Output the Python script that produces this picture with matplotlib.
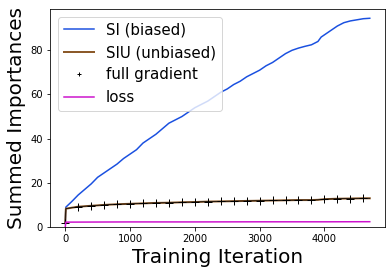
import numpy as np
import matplotlib
matplotlib.use('Agg')
import matplotlib.pyplot as plt

# SI (biased) summed importances
si_iter = [0, 10, 100, 200, 300, 400, 500, 600, 700, 800, 900, 1000, 1100, 1200, 1300,
           1400, 1500, 1600, 1700, 1800, 1900, 2000, 2100, 2200, 2300, 2400, 2500, 2600,
           2700, 2800, 2900, 3000, 3100, 3200, 3300, 3400, 3500, 3600, 3700, 3800, 3900,
           3950, 4000, 4100, 4200, 4300, 4400, 4500, 4600, 4700]
si_vals = [1.5, 9.0, 11.5, 14.5, 17.0, 19.5, 22.5, 24.5, 26.5, 28.5, 31.0, 33.0, 35.0,
           38.0, 40.0, 42.0, 44.5, 47.0, 48.5, 50.0, 52.0, 54.0, 55.5, 57.0, 59.0, 61.0,
           62.5, 64.5, 66.0, 68.0, 69.5, 71.0, 73.0, 74.5, 76.5, 78.5, 80.0, 81.0, 81.8,
           82.5, 84.0, 86.0, 87.0, 89.0, 91.0, 92.5, 93.3, 93.8, 94.3, 94.5]

# SIU (unbiased)
siu_iter = [0, 10, 200, 400, 600, 800, 1000, 1200, 1400, 1600, 1800, 2000, 2200, 2400,
            2600, 2800, 3000, 3200, 3400, 3600, 3800, 3900, 4000, 4200, 4400, 4600, 4700]
siu_vals = [2.0, 8.3, 9.2, 9.6, 10.0, 10.3, 10.5, 10.7, 10.9, 11.0, 11.2, 11.3, 11.5,
            11.6, 11.7, 11.8, 11.9, 12.0, 12.1, 12.2, 12.2, 12.3, 12.6, 12.8, 12.9, 13.0, 13.0]

# full gradient, every 200 iterations
fg_iter = [0, 200, 400, 600, 800, 1000, 1200, 1400, 1600, 1800, 2000, 2200, 2400, 2600,
           2800, 3000, 3200, 3400, 3600, 3800, 4000, 4200, 4400, 4600]
fg_vals = [2.0, 9.2, 9.6, 10.0, 10.3, 10.5, 10.7, 10.9, 11.0, 11.2, 11.3, 11.5, 11.6,
           11.7, 11.8, 11.9, 12.0, 12.1, 12.2, 12.2, 12.6, 12.8, 12.9, 13.0]

# loss
loss_iter = [0, 10, 1000, 2000, 3000, 4000, 4700]
loss_vals = [0.0, 2.2, 2.3, 2.3, 2.35, 2.35, 2.4]

fig = plt.figure(figsize=(391 / 72, 274 / 72), dpi=72)
ax = fig.add_axes([50 / 391, 47 / 274, 335 / 391, 218 / 274])

ax.plot(si_iter, si_vals, color='#1a50e0', lw=1.5, label='SI (biased)')
ax.plot(siu_iter, siu_vals, color='#8c5a2a', lw=2.0, label='SIU (unbiased)')
# thin dark trace along the unbiased curve
ax.plot(siu_iter, siu_vals, color='k', lw=0.7)
ax.plot(fg_iter, fg_vals, 'k+', ms=8, mew=1.0, label='full gradient')
ax.plot(loss_iter, loss_vals, color='#cc11cc', lw=1.5, label='loss')

ax.set_xlim(-235, 4935)
ax.set_ylim(0, 98.7)
ax.set_xticks([0, 1000, 2000, 3000, 4000])
ax.set_yticks([0, 20, 40, 60, 80])
ax.tick_params(labelsize=10)
ax.set_xlabel('Training Iteration', fontsize=20)
ax.set_ylabel('Summed Importances', fontsize=20)
ax.legend(loc='upper left', fontsize=15, markerscale=0.6)

fig.savefig('out.png', dpi=72)
